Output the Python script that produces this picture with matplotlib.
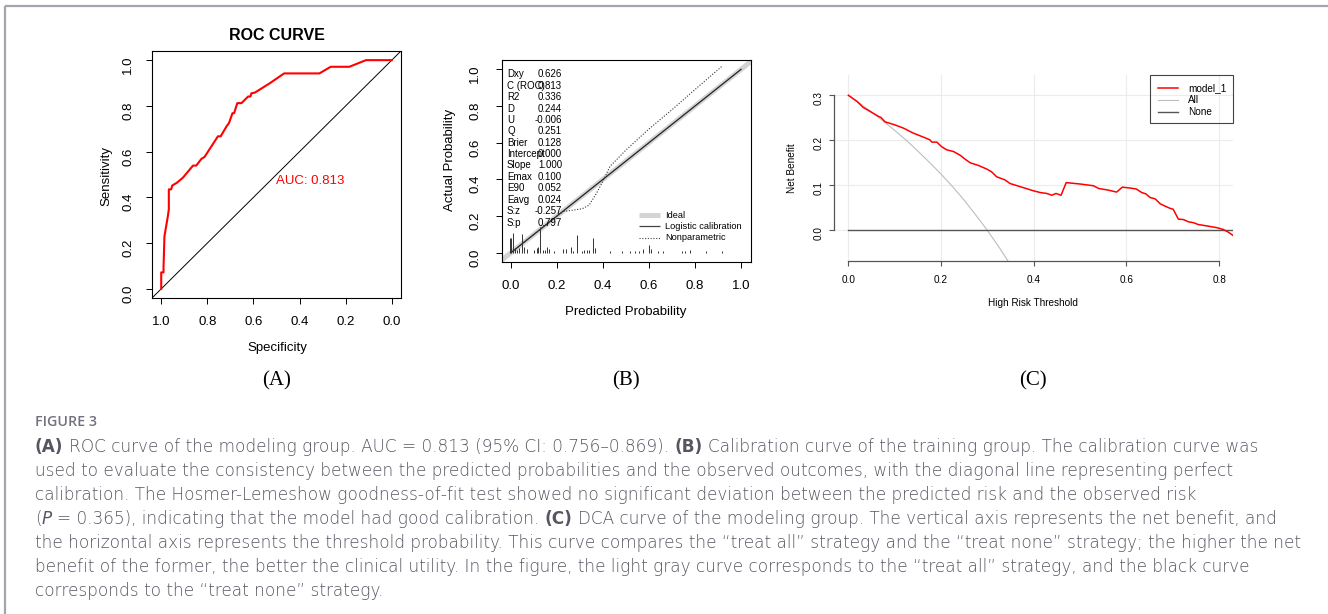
import matplotlib.pyplot as plt
from matplotlib.lines import Line2D

W, H = 1328, 614
plt.rcParams['font.family'] = ['Liberation Sans', 'DejaVu Sans']

# --- ROC curve (specificity, sensitivity) ---
roc_spec = [1.0, 1.0, 0.99, 0.99, 0.986, 0.971, 0.967, 0.967, 0.957, 0.952, 0.932,
            0.906, 0.862, 0.848, 0.826, 0.812, 0.754, 0.742, 0.717, 0.706, 0.691,
            0.684, 0.670, 0.652, 0.638, 0.623, 0.613, 0.609, 0.594, 0.529, 0.467,
            0.314, 0.265, 0.184, 0.112, 0.0]
roc_sens = [0.0, 0.072, 0.072, 0.094, 0.23, 0.319, 0.348, 0.435, 0.435, 0.452, 0.464,
            0.486, 0.539, 0.539, 0.568, 0.577, 0.667, 0.667, 0.71, 0.725, 0.768,
            0.768, 0.812, 0.812, 0.826, 0.841, 0.841, 0.855, 0.858, 0.899, 0.942,
            0.942, 0.971, 0.971, 1.0, 1.0]
auc = 0.813

# --- calibration ---
stat_names = ["Dxy", "C (ROC)", "R2", "D", "U", "Q", "Brier", "Intercept", "Slope",
              "Emax", "E90", "Eavg", "S:z", "S:p"]
stat_values = ["0.626", "0.813", "0.336", "0.244", "-0.006", "0.251", "0.128", "0.000",
               "1.000", "0.100", "0.052", "0.024", "-0.257", "0.797"]
logistic_x = [0.0, 1.0]
logistic_y = [0.0, 1.0]
nonpar_x = [0.0, 0.05, 0.10, 0.15, 0.20, 0.23, 0.27, 0.31, 0.34, 0.37, 0.40, 0.43,
            0.50, 0.60, 0.70, 0.80, 0.92]
nonpar_y = [0.0, 0.05, 0.10, 0.15, 0.20, 0.225, 0.232, 0.24, 0.26, 0.32, 0.39, 0.47,
            0.56, 0.675, 0.78, 0.89, 1.02]
rug_x = [-0.004, 0.0, 0.007, 0.019, 0.028, 0.036, 0.049, 0.058, 0.068, 0.101, 0.112,
         0.119, 0.128, 0.138, 0.148, 0.158, 0.167, 0.187, 0.228, 0.239, 0.259, 0.271,
         0.288, 0.307, 0.317, 0.329, 0.341, 0.358, 0.367, 0.430, 0.481, 0.517, 0.539,
         0.558, 0.572, 0.599, 0.607, 0.641, 0.662, 0.742, 0.757, 0.778, 0.848, 0.919]
rug_h = [0.078, 0.078, 0.105, 0.018, 0.015, 0.024, 0.10, 0.033, 0.018, 0.015, 0.027,
         0.029, 0.142, 0.015, 0.015, 0.029, 0.018, 0.009, 0.02, 0.02, 0.033, 0.009,
         0.096, 0.011, 0.015, 0.015, 0.015, 0.078, 0.024, 0.009, 0.009, 0.009, 0.009,
         0.011, 0.018, 0.042, 0.018, 0.009, 0.009, 0.009, 0.011, 0.015, 0.009, 0.009]

# --- decision curve ---
thresholds = [0.0, 0.019, 0.032, 0.047, 0.065, 0.070, 0.079, 0.101, 0.119, 0.140,
              0.162, 0.176, 0.180, 0.191, 0.201, 0.212, 0.227, 0.241, 0.252, 0.263,
              0.281, 0.299, 0.309, 0.320, 0.338, 0.349, 0.371, 0.399, 0.414, 0.428,
              0.439, 0.448, 0.459, 0.470, 0.500, 0.529, 0.540, 0.558, 0.579, 0.591,
              0.608, 0.621, 0.633, 0.642, 0.651, 0.662, 0.673, 0.683, 0.694, 0.701,
              0.712, 0.723, 0.734, 0.745, 0.755, 0.773, 0.795, 0.809, 0.820, 0.831]
nb_model = [0.300, 0.286, 0.273, 0.264, 0.253, 0.251, 0.241, 0.234, 0.227, 0.216,
            0.207, 0.201, 0.196, 0.196, 0.186, 0.179, 0.175, 0.167, 0.158, 0.150,
            0.144, 0.136, 0.130, 0.119, 0.112, 0.104, 0.097, 0.088, 0.084, 0.082,
            0.078, 0.082, 0.078, 0.106, 0.103, 0.099, 0.093, 0.090, 0.085, 0.096,
            0.094, 0.092, 0.084, 0.081, 0.073, 0.070, 0.059, 0.054, 0.049, 0.047,
            0.025, 0.024, 0.019, 0.017, 0.013, 0.010, 0.006, 0.002, -0.004, -0.012]
all_x = [0.0, 0.025, 0.05, 0.075, 0.10, 0.125, 0.15, 0.175, 0.20, 0.225, 0.25,
         0.275, 0.30, 0.325, 0.35]
nb_all = [0.300, 0.282, 0.263, 0.243, 0.222, 0.200, 0.176, 0.151, 0.125, 0.097,
          0.067, 0.034, 0.0, -0.037, -0.077]
none_x = [0.0, 0.84]
nb_none = [0.0, 0.0]


def box(l, t, r, b):
    return [l / W, 1 - b / H, (r - l) / W, (b - t) / H]


fig = plt.figure(figsize=(W / 100, H / 100), dpi=100)

# background axes in pixel units (y down) for labels, legends and caption
bg = fig.add_axes([0, 0, 1, 1], zorder=-1)
bg.set_xlim(0, W)
bg.set_ylim(H, 0)
bg.axis('off')
PX = bg.transData

frame_c = '#a4a4ac'
bg.plot([5, W], [6, 6], color=frame_c, lw=1.6, solid_capstyle='butt')
bg.plot([5, 5], [6, H], color=frame_c, lw=1.6, solid_capstyle='butt')

# ---------------- (A) ROC ----------------
ax1 = fig.add_axes(box(152, 51, 401, 298))
ax1.plot(roc_spec, roc_sens, color='#ff0000', lw=1.5, zorder=3)
ax1.plot([1.1, -0.1], [-0.1, 1.1], color='black', lw=0.7)
ax1.set_xlim(1.04, -0.04)
ax1.set_ylim(-0.04, 1.04)
ax1.set_xticks([1.0, 0.8, 0.6, 0.4, 0.2, 0.0])
ax1.set_yticks([0.0, 0.2, 0.4, 0.6, 0.8, 1.0])
ax1.set_xticklabels(['1.0', '0.8', '0.6', '0.4', '0.2', '0.0'])
ax1.set_yticklabels(['0.0', '0.2', '0.4', '0.6', '0.8', '1.0'])
ax1.tick_params(axis='x', length=4.3, width=0.7, pad=9, labelsize=9.5)
ax1.tick_params(axis='y', length=4.3, width=0.7, pad=8.4, labelsize=9.5, labelrotation=90)
for s in ax1.spines.values():
    s.set_linewidth(0.8)
ax1.text(0.5, 0.47, f'AUC: {auc:.3f}', color='#ff0000', fontsize=9.5, ha='left', va='center')
bg.text(277, 35, 'ROC CURVE', fontsize=11.5, weight='bold', ha='center', va='center')
bg.text(106, 176, 'Sensitivity', fontsize=9.5, rotation=90, ha='center', va='center')
bg.text(277, 348, 'Specificity', fontsize=9.5, ha='center', va='center')

# ---------------- (B) calibration ----------------
ax2 = fig.add_axes(box(501.7, 60, 750.7, 261.7))
ax2.plot([-0.2, 1.2], [-0.2, 1.2], color='#d4d4d4', lw=3.6, solid_capstyle='butt', zorder=1)
ax2.plot(logistic_x, logistic_y, color='#222222', lw=0.9, zorder=2)
ax2.plot(nonpar_x, nonpar_y, color='#333333', lw=0.8, ls=(0, (1, 1.5)), zorder=2)
ax2.vlines(rug_x, 0, rug_h, color='#333333', lw=0.7, zorder=2)
ax2.set_xlim(-0.04, 1.042)
ax2.set_ylim(-0.049, 1.051)
ticks = [0.0, 0.2, 0.4, 0.6, 0.8, 1.0]
ax2.set_xticks(ticks)
ax2.set_yticks(ticks)
ax2.set_xticklabels([f'{t:.1f}' for t in ticks])
ax2.set_yticklabels([f'{t:.1f}' for t in ticks])
ax2.tick_params(axis='x', length=4.3, width=0.7, pad=9, labelsize=9.5)
ax2.tick_params(axis='y', length=4.3, width=0.7, pad=10.5, labelsize=9.5, labelrotation=90)
for s in ax2.spines.values():
    s.set_linewidth(0.8)
# stats block: long names run into their values, as R prints them
for i, (name, val) in enumerate(zip(stat_names, stat_values)):
    y = 74.3 + i * 11.4
    ax2.text(507, y, name, transform=PX, fontsize=7, ha='left', va='center')
    ax2.text(562, y, val, transform=PX, fontsize=7, ha='right', va='center')
leg_b = [('Ideal', dict(color='#d4d4d4', lw=3.6)),
         ('Logistic calibration', dict(color='#444444', lw=0.9)),
         ('Nonparametric', dict(color='#444444', lw=0.8, ls=(0, (1, 1.5))))]
for i, (lab, st) in enumerate(leg_b):
    y = 215 + i * 11.4
    ax2.add_line(Line2D([639, 660], [y, y], transform=PX, solid_capstyle='butt', **st))
    ax2.text(665, y, lab, transform=PX, fontsize=6.7, ha='left', va='center')
bg.text(450, 160, 'Actual Probability', fontsize=9.5, rotation=90, ha='center', va='center')
bg.text(626, 312, 'Predicted Probability', fontsize=9.5, ha='center', va='center')

# ---------------- (C) decision curve ----------------
ax3 = fig.add_axes(box(834, 75, 1233, 261))
ax3.set_facecolor('none')
for g in [0.0, 0.2, 0.4, 0.6, 0.8]:
    ax3.axvline(g, color='#ececec', lw=0.8, zorder=0)
for g in [0.0, 0.1, 0.2, 0.3]:
    ax3.axhline(g, color='#ececec', lw=0.8, zorder=0)
ax3.plot(all_x, nb_all, color='#bdbdbd', lw=0.8, zorder=2)
ax3.plot(none_x, nb_none, color='#555555', lw=1.0, zorder=2)
ax3.plot(thresholds, nb_model, color='#ff0000', lw=1.1, zorder=3)
ax3.set_xlim(-0.031, 0.830)
ax3.set_ylim(-0.068, 0.345)
ax3.set_xticks([0.0, 0.2, 0.4, 0.6, 0.8])
ax3.set_xticklabels(['0.0', '0.2', '0.4', '0.6', '0.8'])
ax3.set_yticks([0.0, 0.1, 0.2, 0.3])
ax3.set_yticklabels(['0.0', '0.1', '0.2', '0.3'])
ax3.spines['top'].set_visible(False)
ax3.spines['right'].set_visible(False)
ax3.spines['left'].set_bounds(0.0, 0.3)
ax3.spines['bottom'].set_bounds(0.0, 0.8)
for s in ('left', 'bottom'):
    ax3.spines[s].set_color('#555555')
    ax3.spines[s].set_linewidth(0.9)
ax3.tick_params(axis='x', length=3.6, width=0.8, color='#555555', pad=6.5, labelsize=7.2)
ax3.tick_params(axis='y', length=3.6, width=0.8, color='#555555', pad=3.6, labelsize=7.2,
                labelrotation=90)
ax3.add_patch(plt.Rectangle((1150, 75), 83, 48.3, transform=PX, fill=False,
                            ec='#444444', lw=0.8, clip_on=False, zorder=4))
leg_c = [('model_1', dict(color='#ff0000', lw=1.1)),
         ('All', dict(color='#bdbdbd', lw=0.8)),
         ('None', dict(color='#555555', lw=1.0))]
for i, (lab, st) in enumerate(leg_c):
    y = 88.3 + i * 12
    ax3.add_line(Line2D([1158, 1178], [y, y], transform=PX, clip_on=False, zorder=5, **st))
    ax3.text(1188, y, lab, transform=PX, fontsize=7.2, ha='left', va='center', zorder=5)
bg.text(792, 168, 'Net Benefit', fontsize=7.2, rotation=90, ha='center', va='center')
bg.text(1033, 303, 'High Risk Threshold', fontsize=7.2, ha='center', va='center')

# panel letters
for x, lab in [(277, '(A)'), (626, '(B)'), (1033, '(C)')]:
    bg.text(x, 381, lab, family='Liberation Serif', fontsize=15, ha='center', va='center')

# ---------------- caption ----------------
cap_c = '#565662'
cap_fs = 12.15
cap_font = ['DejaVu Sans']
bg.text(35, 422, 'FIGURE 3', family=['Open Sans', 'DejaVu Sans'], fontsize=10.3,
        weight='semibold', color='#72727e', ha='left', va='center')

caption = [
    [('(A)', 'b', 0), ('ROC curve of the modeling group. AUC = 0.813 (95% CI: 0.756–0.869).', 'r', 1),
     ('(B)', 'b', 1), ('Calibration curve of the training group. The calibration curve was', 'r', 1)],
    [('used to evaluate the consistency between the predicted probabilities and the observed '
      'outcomes, with the diagonal line representing perfect', 'r', 0)],
    [('calibration. The Hosmer-Lemeshow goodness-of-fit test showed no significant deviation '
      'between the predicted risk and the observed risk', 'r', 0)],
    [('(', 'r', 0), ('P', 'i', 0),
     ('= 0.365), indicating that the model had good calibration.', 'r', 1),
     ('(C)', 'b', 1), ('DCA curve of the modeling group. The vertical axis represents the '
                       'net benefit, and', 'r', 1)],
    [('the horizontal axis represents the threshold probability. This curve compares the '
      '“treat all” strategy and the “treat none” strategy; the higher the net', 'r', 0)],
    [('benefit of the former, the better the clinical utility. In the figure, the light gray '
      'curve corresponds to the “treat all” strategy, and the black curve', 'r', 0)],
    [('corresponds to the “treat none” strategy.', 'r', 0)],
]
space_pt = 0.32 * cap_fs
for k, parts in enumerate(caption):
    y = 447 + k * 24 + 9
    prev = None
    for text, style, gap in parts:
        kw = dict(family=cap_font, fontsize=cap_fs, color=cap_c, ha='left', va='bottom')
        if style == 'b':
            kw['weight'] = 'bold'
        elif style == 'i':
            kw['style'] = 'italic'
        else:
            kw['weight'] = 'light'
        if prev is None:
            prev = bg.text(35, y, text, **kw)
        else:
            prev = bg.annotate(text, xy=(1, 0), xycoords=prev,
                               xytext=(space_pt * gap, 0), textcoords='offset points', **kw)

fig.savefig('out.png', dpi=100)
